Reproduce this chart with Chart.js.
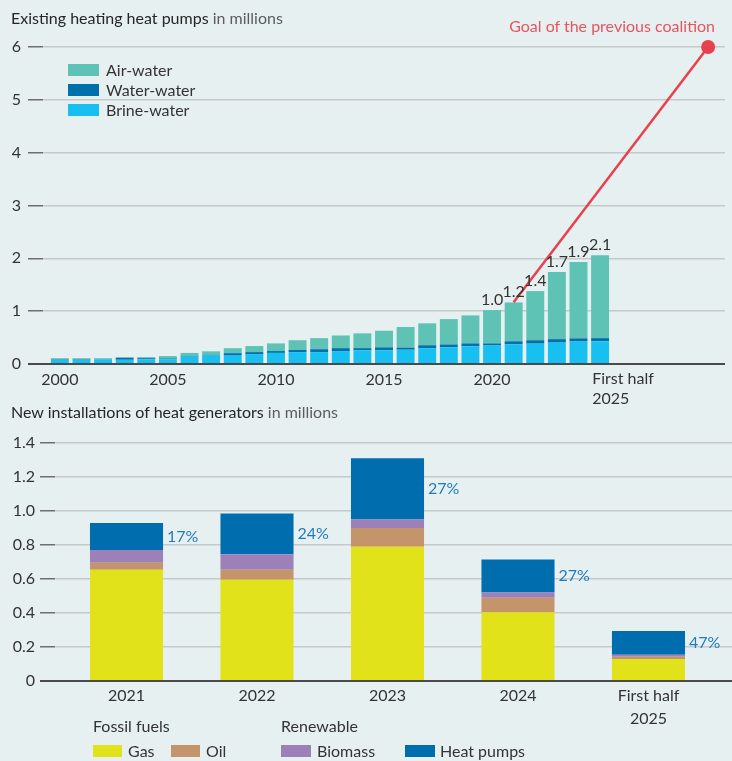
<!DOCTYPE html>
<html lang="en">
<head>
<meta charset="UTF-8">
<title>Heat pumps</title>
<script src="https://cdn.jsdelivr.net/npm/chart.js@4.4.0/dist/chart.umd.min.js"></script>
<style>
  body { margin: 0; background: #e7f0f1; font-family: Lato, sans-serif; }
  #wrap { position: relative; width: 732px; height: 761px; overflow: hidden; }
  canvas { position: absolute; left: 0; }
  .t { position: absolute; white-space: nowrap; font-size: 16px; line-height: 20px; color: #333; }
  .title { color: #262626; }
  .title span { color: #5c5c5c; }
  .box { position: absolute; width: 31px; height: 12px; }
</style>
</head>
<body>
<div id="wrap">
  <canvas id="stock" width="732" height="410" style="top:0"></canvas>
  <canvas id="installs" width="732" height="336" style="top:425px"></canvas>

  <div class="t title" style="left:11px; top:8px">Existing heating heat pumps <span>in millions</span></div>
  <div class="t" style="right:17px; top:16px; color:#e9535f">Goal of the previous coalition</div>

  <div class="box" style="left:68px; top:64px; background:#5ec3b5"></div>
  <div class="t" style="left:106px; top:60px">Air-water</div>
  <div class="box" style="left:68px; top:84px; background:#0070ad"></div>
  <div class="t" style="left:106px; top:80px">Water-water</div>
  <div class="box" style="left:68px; top:104px; background:#17c0f0"></div>
  <div class="t" style="left:106px; top:100px">Brine-water</div>

  <div class="t title" style="left:11px; top:402px">New installations of heat generators <span>in millions</span></div>

  <div class="t" style="left:93px; top:716px">Fossil fuels</div>
  <div class="t" style="left:281px; top:716px">Renewable</div>
  <div class="box" style="left:93px; top:745px; width:29px; background:#e2e21a"></div>
  <div class="t" style="left:128px; top:741px">Gas</div>
  <div class="box" style="left:171px; top:745px; width:29px; background:#c4956a"></div>
  <div class="t" style="left:206px; top:741px">Oil</div>
  <div class="box" style="left:281px; top:745px; width:30px; background:#9d80b8"></div>
  <div class="t" style="left:317px; top:741px">Biomass</div>
  <div class="box" style="left:405px; top:745px; width:30px; background:#006eae"></div>
  <div class="t" style="left:440px; top:741px">Heat pumps</div>
</div>

<script>
  // --- existing heat pumps (top) ---
  const years = [2000, 2001, 2002, 2003, 2004, 2005, 2006, 2007, 2008, 2009, 2010, 2011, 2012,
                 2013, 2014, 2015, 2016, 2017, 2018, 2019, 2020, 2021, 2022, 2023, 2024, 2025]
  const brineWater = [0.08, 0.08, 0.09, 0.08, 0.09, 0.09, 0.14, 0.16, 0.17, 0.18, 0.21, 0.225, 0.225,
                      0.245, 0.26, 0.26, 0.27, 0.30, 0.315, 0.335, 0.35, 0.37, 0.385, 0.405, 0.425, 0.43]
  const waterWater = [0.01, 0.01, 0.005, 0.035, 0.02, 0.015, 0.015, 0.015, 0.035, 0.045, 0.035, 0.04, 0.055,
                      0.055, 0.04, 0.055, 0.04, 0.055, 0.055, 0.055, 0.04, 0.06, 0.065, 0.065, 0.06, 0.06]
  const airWater = [0.02, 0.02, 0.015, 0.015, 0.02, 0.045, 0.055, 0.065, 0.095, 0.115, 0.145, 0.185, 0.21,
                    0.24, 0.28, 0.315, 0.39, 0.415, 0.48, 0.53, 0.63, 0.735, 0.93, 1.27, 1.445, 1.57]
  const totalLabels = ['', '', '', '', '', '', '', '', '', '', '', '', '',
                       '', '', '', '', '', '', '', '1.0', '1.2', '1.4', '1.7', '1.9', '2.1']
  const stockXTicks = [2000, 2005, 2010, 2015, 2020]
  const stockLastLabel = ['First half', '2025']
  const goalYears = [2021, 2030]
  const goalValues = [1.17, 6]

  // --- new installations (bottom) ---
  const installLabels = ['2021', '2022', '2023', '2024', ['First half', '2025']]
  const gas = [0.655, 0.595, 0.79, 0.405, 0.13]
  const oil = [0.04, 0.06, 0.11, 0.085, 0.012]
  const biomass = [0.075, 0.09, 0.05, 0.03, 0.012]
  const heatPumps = [0.16, 0.24, 0.36, 0.195, 0.14]
  const shareLabels = ['17%', '24%', '27%', '27%', '47%']
  const installYTicks = [0, 0.2, 0.4, 0.6, 0.8, 1.0, 1.2, 1.4]
  const installYLabels = ['0', '0.2', '0.4', '0.6', '0.8', '1.0', '1.2', '1.4']

  Chart.defaults.font.family = 'Lato, sans-serif'
  Chart.defaults.font.size = 16
  Chart.defaults.color = '#333'

  const gridColor = c => c.tick && c.tick.value === 0 ? '#4a4a4a' : '#c5c9ca'
  const gridWidth = c => c.tick && c.tick.value === 0 ? 2 : 1.5
  const tickColor = c => c.tick && c.tick.value === 0 ? '#4a4a4a' : '#6e6e6e'

  const pts = (xs, ys) => ys.map((v, i) => ({ x: xs[i], y: v }))

  const stockLabels = {
    id: 'stockLabels',
    afterDatasetsDraw(chart) {
      const ctx = chart.ctx
      const top = chart.getDatasetMeta(2)
      ctx.save()
      ctx.font = '16px Lato, sans-serif'
      ctx.fillStyle = '#333'
      ctx.textAlign = 'center'
      ctx.textBaseline = 'alphabetic'
      totalLabels.forEach((t, i) => {
        if (!t) return
        const bar = top.data[i]
        ctx.fillText(t, bar.x, bar.y - 5)
      })
      const last = top.data[years.length - 1]
      const xs = chart.scales.x
      ctx.textAlign = 'left'
      ctx.textBaseline = 'middle'
      ctx.fillText(stockLastLabel[0], last.x - last.width / 2 + 1, xs.top + 15)
      ctx.fillText(stockLastLabel[1], last.x - last.width / 2 + 1, xs.top + 35)
      ctx.restore()
    }
  }

  new Chart(document.getElementById('stock'), {
    type: 'bar',
    data: {
      datasets: [
        { label: 'Brine-water', data: pts(years, brineWater), backgroundColor: '#17c0f0', order: 1 },
        { label: 'Water-water', data: pts(years, waterWater), backgroundColor: '#0070ad', order: 1 },
        { label: 'Air-water', data: pts(years, airWater), backgroundColor: '#5ec3b5', order: 1 },
        {
          type: 'line', label: 'Goal', stack: 'goal', order: 0,
          data: pts(goalYears, goalValues),
          borderColor: '#e8404e', borderWidth: 2.5,
          pointRadius: [0, 7], pointBackgroundColor: '#e8404e', pointBorderWidth: 0,
          clip: false
        }
      ]
    },
    options: {
      responsive: false,
      animation: false,
      barPercentage: 0.83,
      categoryPercentage: 1,
      layout: { padding: { top: 47, right: 4, left: 0, bottom: 0 } },
      plugins: { legend: { display: false }, tooltip: { enabled: false } },
      scales: {
        x: {
          type: 'linear', min: 1999.22, max: 2030.78, stacked: true, offset: false,
          grid: { display: false, drawTicks: false },
          border: { display: false },
          afterBuildTicks: s => { s.ticks = stockXTicks.map(v => ({ value: v })) },
          afterFit: s => { s.height = 46 },
          ticks: { padding: 6, maxRotation: 0, callback: v => String(v) }
        },
        y: {
          min: 0, max: 6, stacked: true,
          grid: { color: gridColor, lineWidth: gridWidth, tickColor: tickColor, tickLength: 15 },
          border: { display: false },
          afterFit: s => { s.width = 43 },
          ticks: { stepSize: 1, padding: 7 }
        }
      }
    },
    plugins: [stockLabels]
  })

  const shareText = {
    id: 'shareText',
    afterDatasetsDraw(chart) {
      const ctx = chart.ctx
      const hp = chart.getDatasetMeta(3)
      ctx.save()
      ctx.font = '16px Lato, sans-serif'
      ctx.fillStyle = '#1f7bbd'
      ctx.textAlign = 'left'
      ctx.textBaseline = 'middle'
      shareLabels.forEach((t, i) => {
        const bar = hp.data[i]
        ctx.fillText(t, bar.x + bar.width / 2 + 4, (bar.y + bar.base) / 2)
      })
      ctx.restore()
    }
  }

  const idx = installLabels.map((_, i) => i)

  new Chart(document.getElementById('installs'), {
    type: 'bar',
    data: {
      datasets: [
        { label: 'Gas', data: pts(idx, gas), backgroundColor: '#e2e21a' },
        { label: 'Oil', data: pts(idx, oil), backgroundColor: '#c4956a' },
        { label: 'Biomass', data: pts(idx, biomass), backgroundColor: '#9d80b8' },
        { label: 'Heat pumps', data: pts(idx, heatPumps), backgroundColor: '#006eae' }
      ]
    },
    options: {
      responsive: false,
      animation: false,
      barPercentage: 0.56,
      categoryPercentage: 1,
      layout: { padding: { top: 18, right: 0, left: 0, bottom: 0 } },
      plugins: { legend: { display: false }, tooltip: { enabled: false } },
      scales: {
        x: {
          type: 'linear', min: -0.548, max: 4.64, stacked: true, offset: false,
          grid: { display: false, drawTicks: false },
          border: { display: false },
          afterBuildTicks: s => { s.ticks = idx.map(v => ({ value: v })) },
          afterFit: s => { s.height = 80 },
          ticks: { padding: 4, maxRotation: 0, font: { lineHeight: 1.4 }, callback: v => installLabels[v] }
        },
        y: {
          min: 0, max: 1.4, stacked: true,
          grid: { color: gridColor, lineWidth: gridWidth, tickColor: tickColor, tickLength: 15 },
          border: { display: false },
          afterBuildTicks: s => { s.ticks = installYTicks.map(v => ({ value: v })) },
          afterFit: s => { s.width = 55 },
          ticks: { padding: 5, callback: (v, i) => installYLabels[i] }
        }
      }
    },
    plugins: [shareText]
  })
</script>
</body>
</html>
